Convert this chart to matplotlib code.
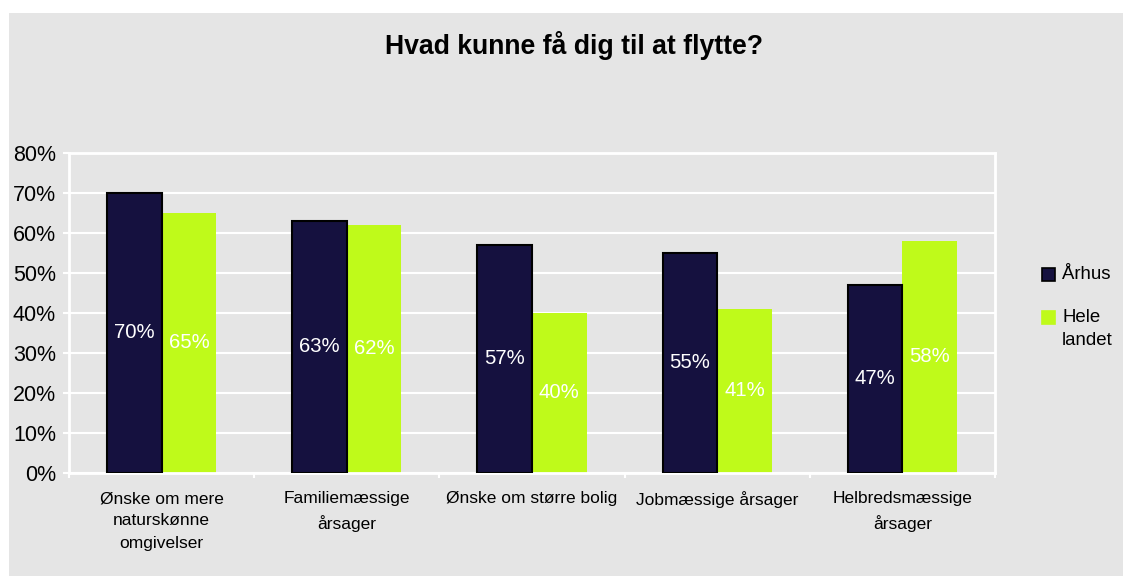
import numpy as np
import matplotlib

matplotlib.use('Agg')
import matplotlib.pyplot as plt
from matplotlib.patches import Rectangle

plt.rcParams['font.family'] = ['Liberation Sans', 'DejaVu Sans']

# Data
categories = ['Ønske om mere\nnaturskønne\nomgivelser', 'Familiemæssige\nårsager',
              'Ønske om større bolig', 'Jobmæssige årsager', 'Helbredsmæssige\nårsager']
aarhus = [70, 63, 57, 55, 47]
hele_landet = [65, 62, 40, 41, 58]
series_names = ['Århus', 'Hele\nlandet']
y_ticks = [0, 10, 20, 30, 40, 50, 60, 70, 80]

bg = '#E5E5E5'
dark = '#15113F'
green = '#BFFA1A'

W, H = 1123, 576
fig = plt.figure(figsize=(W / 100, H / 100), dpi=100, facecolor='white')
fig.add_artist(Rectangle((9 / W, 0), 1 - 9 / W, 1 - 13 / H, transform=fig.transFigure,
                         facecolor=bg, edgecolor='none', zorder=0))

ax = fig.add_axes([69 / W, 1 - 473 / H, (995 - 69) / W, (473 - 153) / H])
ax.set_facecolor(bg)

x = np.arange(len(categories))
w = 0.295
b1 = ax.bar(x - w / 2, aarhus, w, color=dark, edgecolor='black', linewidth=1.5, zorder=3)
b2 = ax.bar(x + w / 2, hele_landet, w, color=green, edgecolor='none', zorder=2)

for bars, vals in ((b1, aarhus), (b2, hele_landet)):
    for r, v in zip(bars, vals):
        ax.text(r.get_x() + r.get_width() / 2, v / 2, '%d%%' % v, ha='center', va='center',
                color='white', fontsize=14.6, zorder=4)

ax.set_xlim(-0.5, len(categories) - 0.5)
ax.set_ylim(0, 80)
ax.set_yticks(y_ticks)
ax.set_yticklabels(['%d%%' % t for t in y_ticks], fontsize=15.5, color='black')
ax.set_xticks(x)
ax.set_xticklabels(categories, fontsize=12.5, va='top')
for t in ax.get_xticklabels():
    t.set_linespacing(1.62)
ax.set_xticks(np.arange(-0.5, len(categories)), minor=True)
ax.tick_params(axis='x', which='major', length=0, pad=13)
ax.tick_params(axis='x', which='minor', length=3.6, color='white', width=1.5)
ax.tick_params(axis='y', length=4.3, color='white', width=1.5, pad=5)
ax.grid(axis='y', color='white', linewidth=1.5, zorder=1)
ax.set_axisbelow(True)
for s in ax.spines.values():
    s.set_color('white')
    s.set_linewidth(2)

fig.text(574 / W, 1 - 46 / H, 'Hvad kunne få dig til at flytte?', ha='center', va='center',
         fontsize=19.2, fontweight='bold')

# legend
for i, (name, col) in enumerate(zip(series_names, [dark, green])):
    yc = [274, 317][i]
    fig.add_artist(Rectangle((1042 / W, 1 - (yc + 7) / H), 13 / W, 13 / H, transform=fig.transFigure,
                             facecolor=col, edgecolor='black' if i == 0 else col, linewidth=1.2))
    fig.text(1062 / W, 1 - (yc - 8) / H, name, ha='left', va='top', fontsize=13.4, linespacing=1.45)

plt.savefig('out.png', dpi=100, facecolor=fig.get_facecolor())
